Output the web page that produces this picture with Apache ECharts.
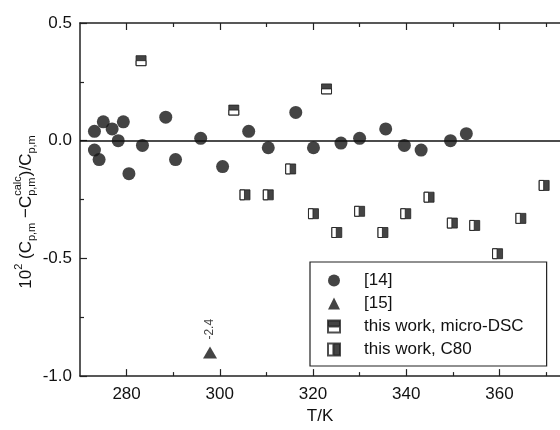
<!DOCTYPE html>
<html><head><meta charset="utf-8">
<script src="https://cdn.jsdelivr.net/npm/echarts@6/dist/echarts.min.js"></script>
<style>html,body{margin:0;padding:0;background:#fff}#c{width:560px;height:430px}</style>
</head><body><div id="c"></div>
<script>
// ---- data ----
const ref14 = [[273.1,0.04],[273.1,-0.04],[274.1,-0.08],[275.0,0.08],[276.9,0.05],[278.2,0.00],[279.3,0.08],[280.5,-0.14],[283.4,-0.02],[288.4,0.10],[290.5,-0.08],[295.9,0.01],[300.6,-0.11],[306.2,0.04],[310.4,-0.03],[316.3,0.12],[320.1,-0.03],[326.0,-0.01],[330.0,0.01],[335.6,0.05],[339.6,-0.02],[343.2,-0.04],[349.5,0.00],[352.9,0.03]];
const ref15 = [[297.9,-0.90]];
const ref15Labels = ['-2.4'];
const microDSC_T = [283.1,303.0,322.9];
const microDSC_V = [0.34,0.13,0.22];
const c80_T = [305.4,310.4,315.2,320.1,325.1,330.0,335.0,339.9,344.9,349.9,354.7,359.6,364.6,369.6];
const c80_V = [-0.23,-0.23,-0.12,-0.31,-0.39,-0.30,-0.39,-0.31,-0.24,-0.35,-0.36,-0.48,-0.33,-0.19];
const seriesNames = ['[14]','[15]','this work, micro-DSC','this work, C80'];
const xTickLabels = ['280','300','320','340','360'];
const xMinorTicks = [290,310,330,350,370];
const yTickLabels = ['-1.0','-0.5','0.0','0.5'];
const yMinorTicks = [-0.75,-0.25,0.25];

const FF = '"Liberation Sans", Arial, Helvetica, sans-serif';
const INK = '#111';
const pathDSC = 'path://M0,0L10,0L10,10L0,10Z M0,5L0,10L10,10L10,5Z';
const pathC80 = 'path://M0,0L10,0L10,10L0,10Z M0,0L0,10L4.5,10L4.5,0Z';

// y-axis title built from text pieces
const mctx = document.createElement('canvas').getContext('2d');
function tw(t, s){ mctx.font = s + 'px ' + FF; return mctx.measureText(t).width; }
const pieces = [
  [{t:'10', s:17, dy:0}], [{t:'2', s:11, dy:-7}], [{t:' (C', s:17, dy:0}], [{t:'p,m', s:11, dy:6}],
  [{t:' \u2212C', s:17, dy:0}], [{t:'calc', s:11, dy:-8},{t:'p,m', s:11, dy:6}],
  [{t:')/C', s:17, dy:0}], [{t:'p,m', s:11, dy:6}]
];
let acc = 0; const titleKids = [];
pieces.forEach(group => {
  let mw = 0;
  group.forEach(p => {
    titleKids.push({type:'text', x: acc, y: p.dy, style:{text:p.t, fontSize:p.s, fontFamily:FF, fill:INK, align:'left', verticalAlign:'middle'}});
    mw = Math.max(mw, tw(p.t, p.s));
  });
  acc += mw;
});
titleKids.forEach(k => { k.x -= acc/2; });

const xMajor = xTickLabels.map(Number);
const yMajor = yTickLabels.map(Number);
const XMIN = 270, XMAX = 373, YMIN = -1, YMAX = 0.5;

const chart = echarts.init(document.getElementById('c'), null, {renderer:'canvas'});
const axisLineStyle = {color:'#222', width:1.5};
const tickStyle = {color:'#222', width:1.2};
function xAx(pos, major, withLabels){
  return {
    type:'value', min:XMIN, max:XMAX, position:pos,
    axisLine:{show:major, onZero:false, lineStyle:axisLineStyle},
    axisTick:{show:true, inside:true, length: major ? 7 : 4, lineStyle:tickStyle, customValues: major ? xMajor : xMinorTicks},
    splitLine:{show:false},
    axisLabel: withLabels ? {customValues:xMajor, formatter:v => String(v), fontSize:17, color:INK, fontFamily:FF, margin:10} : {show:false}
  };
}
const xAxes = [xAx('bottom', true, true), xAx('top', true, false), xAx('bottom', false, false), xAx('top', false, false)];
Object.assign(xAxes[0], {name:'T/K', nameLocation:'middle', nameGap:25, nameTextStyle:{fontSize:17, color:INK, fontFamily:FF}});

function yAx(major){
  return {
    type:'value', min:YMIN, max:YMAX, position:'left',
    axisLine:{show:major, onZero:false, lineStyle:axisLineStyle},
    axisTick:{show:true, inside:true, length: major ? 7 : 4, lineStyle:tickStyle, customValues: major ? yMajor : yMinorTicks},
    splitLine:{show:false},
    axisLabel: major ? {customValues:yMajor, formatter:v => v.toFixed(1), fontSize:17, color:INK, fontFamily:FF, margin:8} : {show:false}
  };
}

chart.setOption({
  animation:false,
  backgroundColor:'#fff',
  grid:{left:80, right:0, top:23, bottom:49},
  xAxis:xAxes,
  yAxis:[yAx(true), yAx(false)],
  legend:{
    orient:'vertical', left:310, top:262, padding:[10,23,8,17],
    itemWidth:12, itemHeight:12, itemGap:6,
    borderColor:'#222', borderWidth:1.2, borderRadius:0,
    textStyle:{fontSize:17, color:INK, fontFamily:FF, lineHeight:17, padding:[0,0,0,19]},
    data:[
      {name:seriesNames[0], icon:'circle'},
      {name:seriesNames[1], icon:'triangle'},
      {name:seriesNames[2], icon:pathDSC},
      {name:seriesNames[3], icon:pathC80}
    ]
  },
  graphic:[{type:'group', x:26, y:212, rotation:Math.PI/2, children:titleKids}],
  series:[
    {
      name:seriesNames[0], type:'scatter', data:ref14, symbol:'circle', symbolSize:13,
      itemStyle:{color:'#151515'},
      markLine:{silent:true, symbol:'none', data:[{yAxis:0}], lineStyle:{color:INK, width:1.5, type:'solid'}, label:{show:false}}
    },
    {
      name:seriesNames[1], type:'scatter', data:ref15, symbol:'triangle', symbolSize:[14,12],
      itemStyle:{color:'#151515'},
      label:{show:true, formatter:p => ref15Labels[p.dataIndex], position:'top', distance:7, rotate:90, align:'left', verticalAlign:'middle', fontSize:12, color:INK, fontFamily:FF}
    },
    {
      name:seriesNames[2], type:'scatter', data:microDSC_T.map((t,i)=>[t, microDSC_V[i]]), symbol:pathDSC, symbolSize:10,
      itemStyle:{color:'#151515', borderColor:'#222', borderWidth:1}
    },
    {
      name:seriesNames[3], type:'scatter', data:c80_T.map((t,i)=>[t, c80_V[i]]), symbol:pathC80, symbolSize:10,
      itemStyle:{color:'#151515', borderColor:'#222', borderWidth:1}
    }
  ]
});
</script></body></html>
